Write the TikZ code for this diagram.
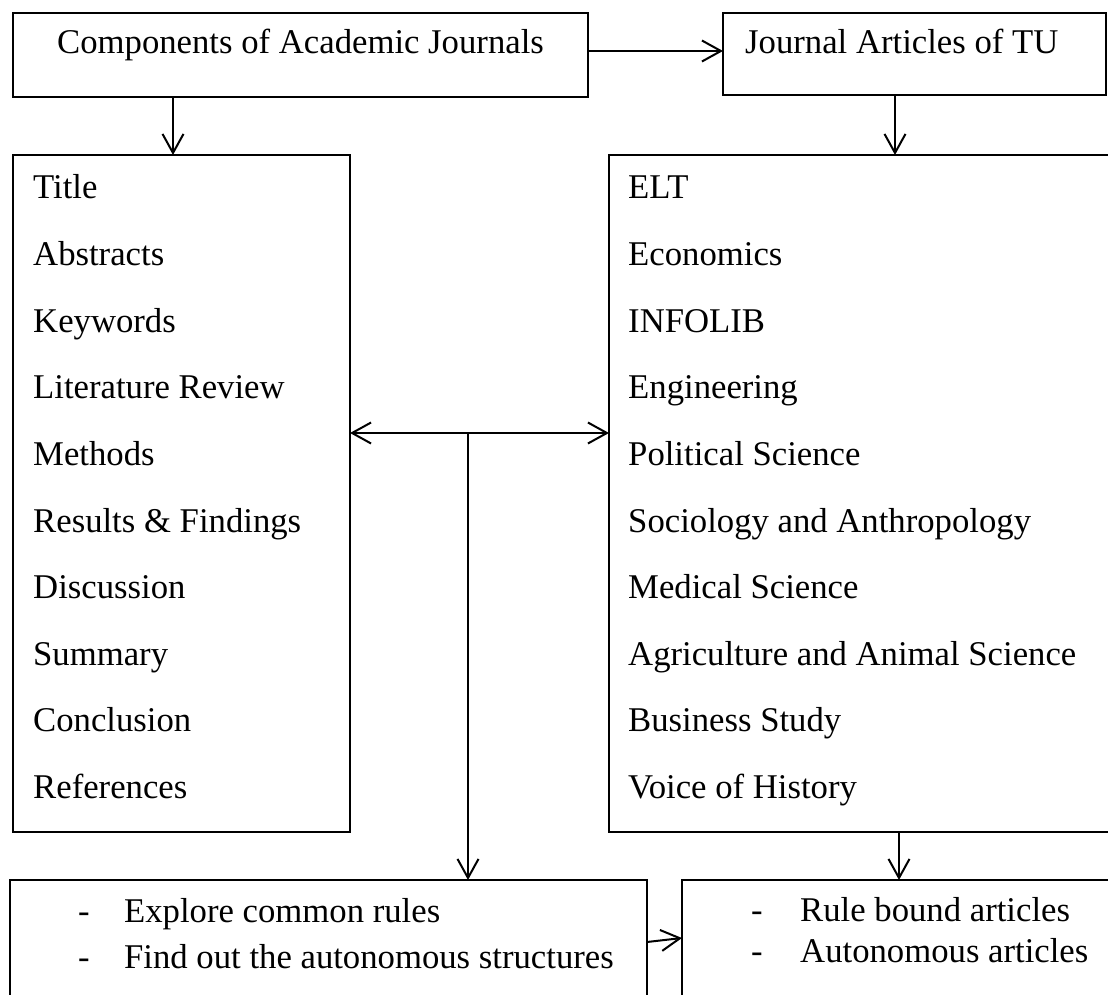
\documentclass[tikz,border=0pt]{standalone}
\usepackage{fontspec}
\setmainfont{Liberation Serif}
\usetikzlibrary{arrows.meta}
\tikzset{
  >={Straight Barb[length=19pt,width=21pt]},
  box/.style={draw, line width=2pt, anchor=north west, inner sep=0pt, outer sep=0pt},
  txt/.style={anchor=base west, inner sep=0pt, font=\fontsize{34.7}{40}\selectfont},
  conn/.style={line width=2pt, ->}
}
\begin{document}
\begin{tikzpicture}[x=1pt, y=-1pt]
            \useasboundingbox (0,0) rectangle (1108,995);
            \clip (0,0) rectangle (1108,995);

            \node[box, minimum width=575pt, minimum height=84pt]  (comp)  at (13,13)   {};
            \node[box, minimum width=383pt, minimum height=82pt]  (jour)  at (723,13)  {};
            \node[box, minimum width=337pt, minimum height=677pt] (parts) at (13,155)  {};
            \node[box, minimum width=510pt, minimum height=677pt] (subj)  at (609,155) {};
            \node[box, minimum width=637pt, minimum height=124pt] (rules) at (10,880)  {};
            \node[box, minimum width=440pt, minimum height=116pt] (kinds) at (682,880) {};

            \node[txt] (compt) at (57,54)  {Components of Academic Journals};
            \node[txt] (jourt) at (745,54) {Journal Articles of TU};

            \foreach \t [count=\i from 0] in {Title, Abstracts, Keywords, Literature Review, Methods,
                Results \& Findings, Discussion, Summary, Conclusion, References}
                \node[txt] (part\i) at (33, 199+66.6*\i) {\t};
            \foreach \t [count=\i from 0] in {ELT, Economics, INFOLIB, Engineering, Political Science,
                Sociology and Anthropology, Medical Science, Agriculture and Animal Science,
                Business Study, Voice of History}
                \node[txt] (subj\i) at (628, 199+66.6*\i) {\t};

            \node[txt] (rule1) at (78,922)  {\makebox[46pt][l]{-}Explore common rules};
            \node[txt] (rule2) at (78,968)  {\makebox[46pt][l]{-}Find out the autonomous structures};
            \node[txt] (kind1) at (751,921) {\makebox[49pt][l]{-}Rule bound articles};
            \node[txt] (kind2) at (751,962) {\makebox[49pt][l]{-}Autonomous articles};

            \coordinate (a1)  at (173,0);
            \coordinate (a2)  at (895,0);
            \coordinate (a3)  at (899,0);
            \coordinate (hub) at (468,433);

            \draw[conn] ([yshift=4pt]comp.east) -- ([yshift=4pt]comp.east -| jour.west);
            \draw[conn] (comp.south -| a1) -- (parts.north -| a1);
            \draw[conn] (jour.south -| a2) -- (subj.north -| a2);
            \draw[conn, <->] (parts.east |- hub) -- (subj.west |- hub);
            \draw[conn] (hub) -- (hub |- rules.north);
            \draw[conn] (subj.south -| a3) -- (kinds.north -| a3);
            \draw[conn] (rules.east) -- (kinds.west);
        \end{tikzpicture}
\end{document}
